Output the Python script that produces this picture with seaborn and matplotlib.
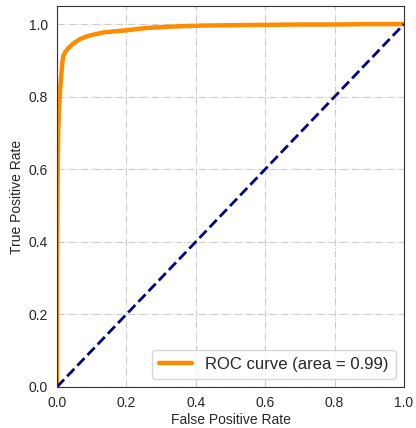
import numpy as np
import matplotlib
matplotlib.use("Agg")
import matplotlib.pyplot as plt
import seaborn as sns

# ROC curve points (false positive rate, true positive rate)
fpr = [0.0, 0.0, 0.002, 0.004, 0.006, 0.009, 0.012, 0.015, 0.018, 0.025, 0.033,
       0.042, 0.052, 0.065, 0.085, 0.105, 0.133, 0.165, 0.2, 0.235, 0.268,
       0.31, 0.349, 0.42, 0.5, 0.6, 0.7, 0.8, 0.9, 1.0]
tpr = [0.0, 0.35, 0.6, 0.72, 0.77, 0.82, 0.855, 0.89, 0.912, 0.925, 0.934,
       0.942, 0.95, 0.958, 0.966, 0.971, 0.977, 0.98, 0.983, 0.987, 0.99,
       0.992, 0.994, 0.996, 0.997, 0.998, 0.999, 0.999, 1.0, 1.0]
chance = [0.0, 1.0]

roc_auc = np.trapezoid(tpr, fpr)

sns.set_style("white", {"axes.grid": True, "grid.linestyle": "-.",
                        "grid.color": "#cccccc", "axes.edgecolor": "#333333"})
plt.rcParams["font.family"] = ["Liberation Sans", "DejaVu Sans"]

fig, ax = plt.subplots(figsize=(4.16, 4.28), dpi=100)
sns.lineplot(x=fpr, y=tpr, ax=ax, color="darkorange", lw=3.2,
             label=f"ROC curve (area = {roc_auc:.2f})", estimator=None, sort=False)
sns.lineplot(x=chance, y=chance, ax=ax, color="navy", lw=2, linestyle="--")
ax.set_xlim(0.0, 1.0)
ax.set_ylim(0.0, 1.05)
ax.set_xlabel("False Positive Rate", fontsize=10, labelpad=2)
ax.set_ylabel("True Positive Rate", fontsize=10, labelpad=3)
ax.tick_params(labelsize=10, pad=3)
ax.legend(loc="lower right", fontsize=12)
fig.subplots_adjust(left=0.137, right=0.971, top=0.986, bottom=0.096)
fig.savefig("out.png", dpi=100)
